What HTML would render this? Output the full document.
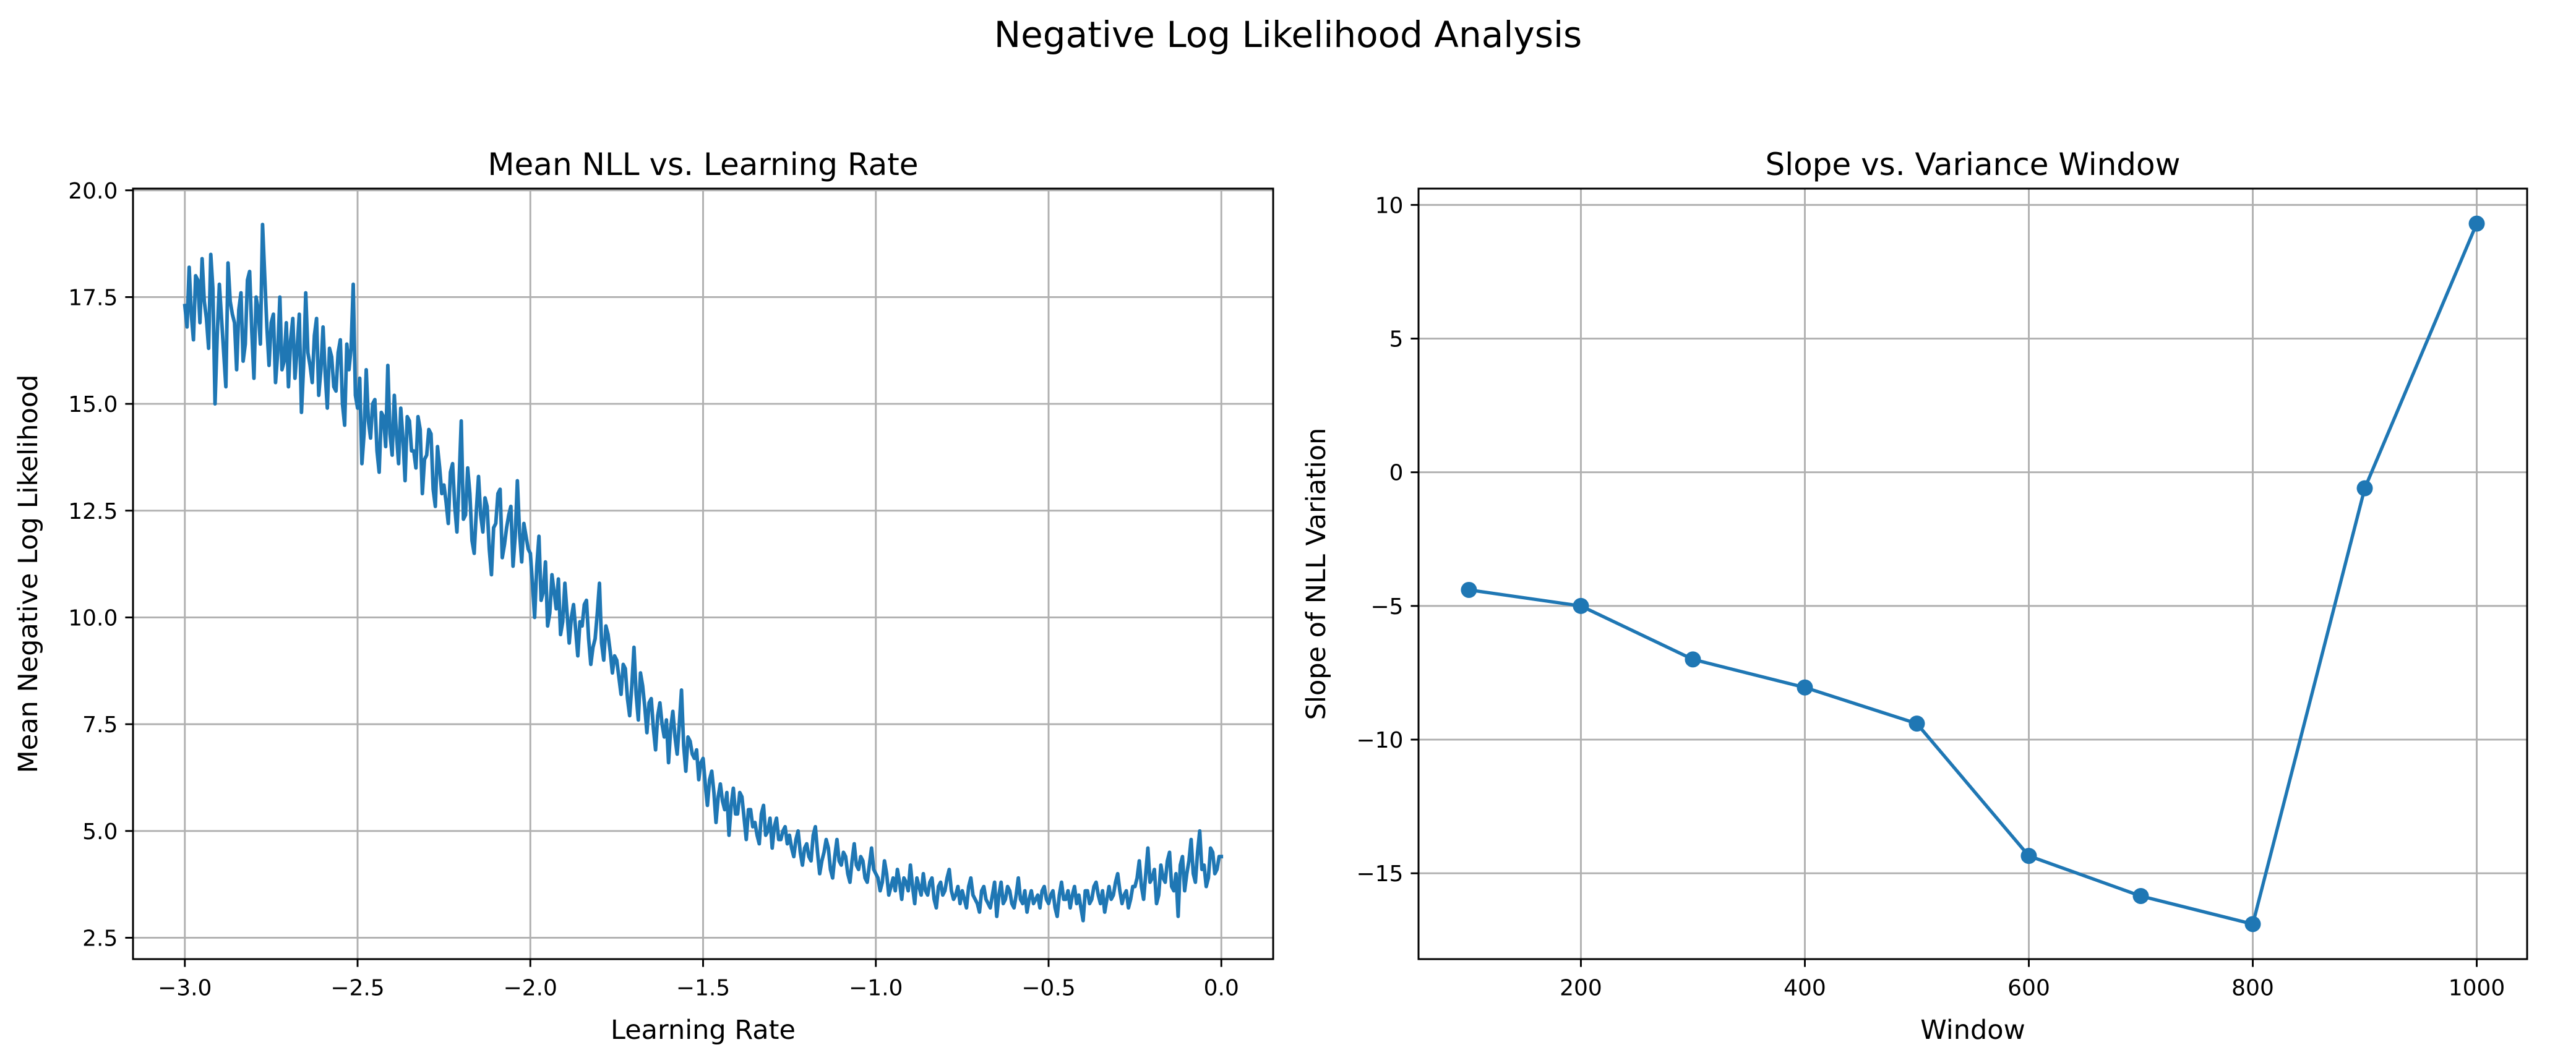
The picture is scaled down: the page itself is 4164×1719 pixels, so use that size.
<!DOCTYPE html>
<html><head><meta charset="utf-8">
<style>html,body{margin:0;padding:0;background:#fff;}svg{display:block;font-family:"DejaVu Sans","Liberation Sans",sans-serif;}</style>
</head><body>
<svg id="fig" width="4164" height="1719" viewBox="0 0 4164 1719" xmlns="http://www.w3.org/2000/svg">
<rect width="4164" height="1719" fill="#fff"/>
<text x="2082" y="76" font-size="58" text-anchor="middle">Negative Log Likelihood Analysis</text>
<g id="left"></g>
<g id="right"></g>
</svg>
<script>
const nllValues = [17.3,18.2,16.5,17.9,18.4,17.0,18.5,15.0,17.8,16.2,18.3,17.1,15.8,17.6,16.4,18.1,15.6,17.2,19.2,16.8,
16.9,15.5,17.5,16.0,15.4,17.0,16.3,14.8,17.6,15.9,16.6,15.2,16.8,14.9,16.1,15.3,16.5,14.5,15.8,17.8,
14.9,13.6,15.8,14.2,15.1,13.4,14.7,15.9,13.8,14.3,14.9,13.2,14.6,13.9,14.7,12.9,13.8,14.3,12.6,13.5,
13.1,12.2,13.6,12.0,14.6,12.4,12.9,11.5,13.3,12.0,12.6,11.0,12.2,13.0,11.7,12.4,11.2,13.2,11.3,11.9,
11.5,10.0,11.9,10.6,9.8,11.0,10.2,9.6,10.8,9.4,10.3,9.1,9.8,10.4,8.9,9.5,10.8,9.0,9.6,8.7,
9.0,8.2,8.8,7.7,9.3,7.6,8.4,7.3,8.1,6.9,8.0,7.2,6.6,7.8,6.8,8.3,6.4,7.1,6.7,6.2,
6.7,5.6,6.4,5.2,6.1,5.5,4.9,6.0,5.4,5.8,4.8,5.5,5.2,4.7,5.6,5.0,4.6,5.3,4.8,5.1,
4.9,4.4,5.0,4.2,4.7,4.3,5.1,4.0,4.5,4.6,3.9,4.8,4.2,4.4,3.8,4.7,4.1,4.3,3.8,4.6,
4.0,3.6,4.3,3.5,3.9,4.1,3.4,3.8,4.2,3.3,3.7,4.0,3.5,3.9,3.2,3.8,3.6,4.1,3.4,3.7,
3.6,3.2,3.9,3.4,3.1,3.7,3.3,3.5,3.0,3.8,3.4,3.6,3.2,3.9,3.3,3.1,3.6,3.4,3.2,3.7,
3.3,3.6,3.0,3.8,3.4,3.2,3.7,3.5,2.9,3.6,3.4,3.8,3.3,3.1,3.7,3.5,4.0,3.3,3.6,3.4,
3.7,4.3,3.4,4.6,3.9,3.3,4.2,3.8,4.5,3.6,3.0,4.4,4.0,4.8,3.8,5.0,4.2,3.9,4.5,4.1,4.4];
const nllValuesB = [16.8,17.1,18.0,16.9,17.4,16.3,17.7,16.6,17.0,15.4,17.4,16.9,17.2,16.0,17.9,16.7,17.5,16.4,18.0,15.9,
17.1,16.2,15.8,16.9,16.5,15.6,17.1,15.9,16.2,15.5,17.0,15.8,15.7,16.3,15.4,16.2,15.0,16.4,16.3,15.2,
15.6,14.3,14.6,15.0,13.9,14.8,14.0,14.3,15.2,13.6,14.2,14.7,13.9,13.5,14.4,13.7,14.4,13.0,14.0,12.9,
12.7,13.4,12.6,13.2,12.3,13.5,11.8,12.5,12.4,12.8,11.6,12.1,12.9,11.4,12.1,12.6,11.9,12.0,12.2,11.6,
10.8,11.2,10.4,11.3,10.1,10.6,10.9,9.9,10.1,10.0,9.7,9.9,10.3,9.5,9.3,10.1,9.4,9.8,9.2,9.1,
8.6,8.9,8.1,8.4,8.2,8.7,7.9,8.0,7.4,7.7,7.5,7.6,7.4,7.2,7.5,7.0,7.2,6.8,6.9,6.6,
6.1,6.2,5.9,5.8,5.7,5.9,5.6,5.4,5.9,5.3,5.5,5.1,4.9,5.4,4.9,5.3,5.1,4.8,5.0,4.7,
4.6,4.8,4.5,4.6,4.4,4.9,4.5,4.3,4.8,4.1,4.4,4.3,4.5,4.0,4.3,4.2,4.4,3.9,4.2,4.1,
3.9,3.8,4.0,3.7,3.6,3.8,3.9,3.6,3.7,3.9,3.5,3.6,3.8,3.4,3.7,3.5,3.9,3.6,3.5,3.3,
3.4,3.7,3.5,3.3,3.6,3.4,3.2,3.8,3.5,3.3,3.7,3.3,3.5,3.4,3.6,3.4,3.3,3.5,3.6,3.4,
3.5,3.2,3.5,3.4,3.6,3.5,3.3,3.2,3.6,3.3,3.7,3.5,3.6,3.4,3.4,3.8,3.6,3.5,3.2,3.7,
3.9,3.7,4.0,3.8,4.1,3.5,3.9,4.3,3.7,4.0,4.2,3.6,4.3,4.0,4.5,4.1,3.7,4.6,4.0,4.4];
const lrStart = -3.0, lrEnd = 0.0;
const leftXTicks = [-3.0,-2.5,-2.0,-1.5,-1.0,-0.5,0.0];
const leftXTickLabels = ["\u22123.0","\u22122.5","\u22122.0","\u22121.5","\u22121.0","\u22120.5","0.0"];
const leftYTicks = [2.5,5.0,7.5,10.0,12.5,15.0,17.5,20.0];
const leftYTickLabels = ["2.5","5.0","7.5","10.0","12.5","15.0","17.5","20.0"];
const windows = [100,200,300,400,500,600,700,800,900,1000];
const slopes = [-4.4,-5.0,-7.0,-8.05,-9.4,-14.35,-15.85,-16.9,-0.6,9.3];
const rightXTicks = [200,400,600,800,1000];
const rightYTicks = [-15,-10,-5,0,5,10];
const rightYTickLabels = ["\u221215","\u221210","\u22125","0","5","10"];

const NS="http://www.w3.org/2000/svg";
function mk(parent,tag,attrs){const e=document.createElementNS(NS,tag);for(const k in attrs)e.setAttribute(k,attrs[k]);parent.appendChild(e);return e;}
function scale(d0,d1,r0,r1){return v=>r0+(v-d0)*(r1-r0)/(d1-d0);}
const TOP=305,BOT=1551,TICK=12.6,FS=36;

function axes(g,L,R,xs,ys,xt,xtl,yt,ytl,title,xlab,ylab,ylabX,prefix){
  for(let i=0;i<xt.length;i++){
    const x=xs(xt[i]);
    const gl=mk(g,'line',{x1:x,x2:x,y1:TOP,y2:BOT,stroke:'#b0b0b0','stroke-width':2.9});
    
    
    const tk=mk(g,'line',{x1:x,x2:x,y1:BOT,y2:BOT+TICK,stroke:'#000','stroke-width':2.9});
    
    
    const t=mk(g,'text',{x:x,y:BOT+TICK+12+34,'font-size':FS,'text-anchor':'middle'});t.textContent=xtl[i];
    
    
  }
  for(let i=0;i<yt.length;i++){
    const y=ys(yt[i]);
    const gl=mk(g,'line',{x1:L,x2:R,y1:y,y2:y,stroke:'#b0b0b0','stroke-width':2.9});
    
    
    const tk=mk(g,'line',{x1:L-TICK,x2:L,y1:y,y2:y,stroke:'#000','stroke-width':2.9});
    
    
    const t=mk(g,'text',{x:L-TICK-12,y:y+13,'font-size':FS,'text-anchor':'end'});t.textContent=ytl[i];
    
    
  }
  const tt=mk(g,'text',{x:(L+R)/2,y:TOP-22,'font-size':50,'text-anchor':'middle'});tt.textContent=title;
  
  
  const xl=mk(g,'text',{x:(L+R)/2,y:1680,'font-size':43,'text-anchor':'middle'});xl.textContent=xlab;
  
  
  const cy=(TOP+BOT)/2;
  const yl=mk(g,'text',{x:ylabX,y:cy,'font-size':43,'text-anchor':'middle',transform:`rotate(-90 ${ylabX} ${cy})`});yl.textContent=ylab;
  
  
}
function frame(g,L,R,prefix){
  const f=mk(g,'rect',{x:L,y:TOP,width:R-L,height:BOT-TOP,fill:'none',stroke:'#000','stroke-width':3});
  
  
}

// Left chart
(function(){
  const g=document.getElementById('left');
  const L=215,R=2058;
  const xs=scale(-3.15,0.15,L,R), ys=scale(2.0,20.04,BOT,TOP);
  axes(g,L,R,xs,ys,leftXTicks,leftXTickLabels,leftYTicks,leftYTickLabels,'Mean NLL vs. Learning Rate','Learning Rate','Mean Negative Log Likelihood',60,'left-');
  const n=nllValues.length;
  const merged=[];
  for(let i=0;i<n;i++){merged.push(nllValues[i]); if(i<nllValuesB.length) merged.push(nllValuesB[i]);}
  const m=merged.length;
  const pts=merged.map((v,i)=>{const lr=lrStart+(lrEnd-lrStart)*i/(m-1);return xs(lr).toFixed(1)+','+ys(v).toFixed(1);}).join(' ');
  const p=mk(g,'polyline',{points:pts,fill:'none',stroke:'#1f77b4','stroke-width':5.8,'stroke-linejoin':'round','stroke-linecap':'square'});
  
  
  frame(g,L,R,'left-');
})();

// Right chart
(function(){
  const g=document.getElementById('right');
  const L=2293,R=4085;
  const xs=scale(55,1045,L,R), ys=scale(-18.21,10.61,BOT,TOP);
  axes(g,L,R,xs,ys,rightXTicks,rightXTicks.map(String),rightYTicks,rightYTickLabels,'Slope vs. Variance Window','Window','Slope of NLL Variation',2142,'right-');
  const pts=windows.map((w,i)=>xs(w).toFixed(1)+','+ys(slopes[i]).toFixed(1)).join(' ');
  const p=mk(g,'polyline',{points:pts,fill:'none',stroke:'#1f77b4','stroke-width':5.4,'stroke-linejoin':'round'});
  
  
  for(let i=0;i<windows.length;i++){
    const c=mk(g,'circle',{cx:xs(windows[i]),cy:ys(slopes[i]),r:13,fill:'#1f77b4'});
    
    
  }
  frame(g,L,R,'right-');
})();
</script>
</body></html>
